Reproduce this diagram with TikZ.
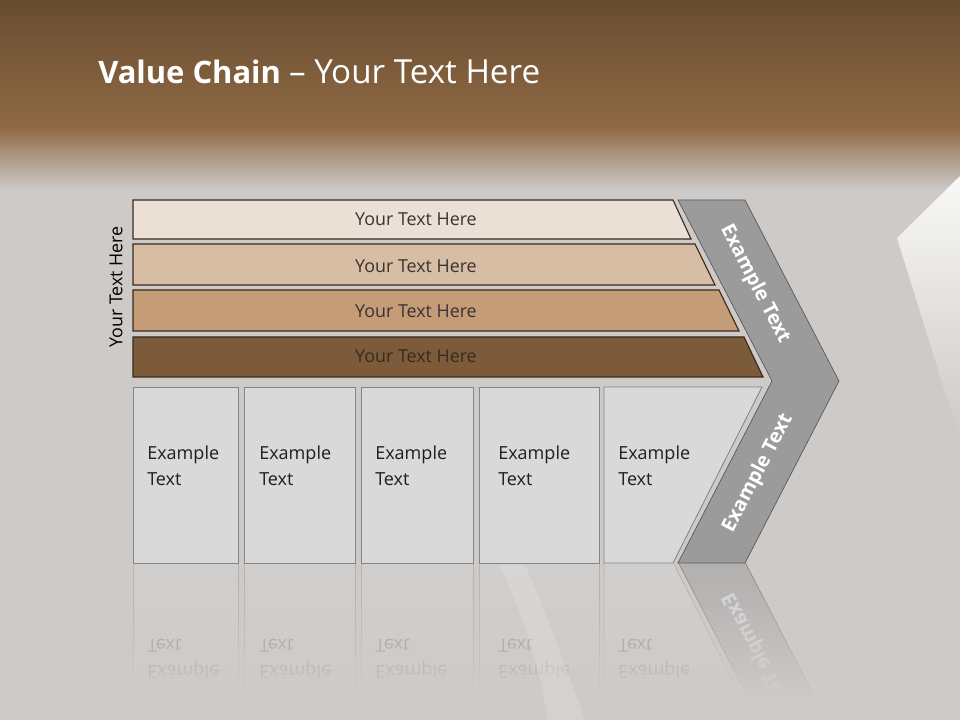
\documentclass[tikz,border=0pt]{standalone}
\usepackage{fontspec}
\setmainfont{Carlito}
\newfontfamily\osans{Open Sans}
\usepackage{xcolor}
\usetikzlibrary{positioning,fadings}

\definecolor{bgtop}{HTML}{684C30}
\definecolor{bgbrown}{HTML}{8F6A44}
\definecolor{bggray}{HTML}{CDCAC8}
\definecolor{barA}{HTML}{EBE0D5}
\definecolor{barB}{HTML}{D6BDA3}
\definecolor{barC}{HTML}{C49C78}
\definecolor{barD}{HTML}{7B5B3A}
\definecolor{barline}{HTML}{3A2A1E}
\definecolor{bartxt}{HTML}{3A3330}
\definecolor{cellfill}{HTML}{D9D9D9}
\definecolor{cellline}{HTML}{858585}
\definecolor{celltxt}{HTML}{1E1E1E}
\definecolor{chevfill}{HTML}{9B9B9B}
\definecolor{chevline}{HTML}{5A5A5A}

\tikzfading[name=reflcover, top color=transparent!100, bottom color=transparent!0]
\tikzfading[name=streakfade, top color=transparent!0, bottom color=transparent!100]

\begin{document}
\begin{tikzpicture}[x=0.025cm, y=-0.025cm,
  every node/.style={inner sep=0pt},
  bar/.style={draw=barline, line width=0.8pt},
  bartext/.style={font=\osans\fontsize{12.7}{15}\selectfont, text=bartxt},
  cell/.style={draw=cellline, fill=cellfill, line width=0.6pt},
  celltext/.style={font=\osans\fontsize{12.8}{18.5}\selectfont, text=celltxt, align=left, anchor=west},
  chev/.style={fill=chevfill, draw=chevline, line width=0.5pt},
  armtext/.style={font=\osans\bfseries\fontsize{14}{16}\selectfont, text=white}]
  \useasboundingbox (0,0) rectangle (960,720);

  % background
  \fill[top color=bgtop, bottom color=bgbrown] (0,0) rectangle (960,127);
  \fill[top color=bgbrown, bottom color=bggray] (0,127) rectangle (960,190);
  \fill[bggray] (0,190) rectangle (960,720);
  \fill[white!88!bggray, path fading=streakfade] (897,238) -- (960,176) -- (960,440) -- cycle;

  \node[anchor=base west, font=\osans\fontsize{22}{26}\selectfont, text=white] (title) at (98,84)
    {\textbf{Value Chain} {\fontsize{23.6}{26}\selectfont– Your Text Here}};

  % reflection below the cells
  \begin{scope}[shift={(0,1125)}, yscale=-1, every node/.append style={transform shape}]
    \begin{scope}[opacity=0.35]
      \draw[cell] (133,387) rectangle (238,563);
      \draw[cell] (244,387) rectangle (355,563);
      \draw[cell] (361,387) rectangle (473,563);
      \draw[cell] (479,387) rectangle (599,563);
      \draw[cell] (604,387) -- (762,387) -- (673,563) -- (604,563) -- cycle;
      \node[celltext] (r1) at (147,466) {Example\\Text};
      \node[celltext] (r2) at (259,466) {Example\\Text};
      \node[celltext] (r3) at (375,466) {Example\\Text};
      \node[celltext] (r4) at (498,466) {Example\\Text};
      \node[celltext] (r5) at (618,466) {Example\\Text};
    \end{scope}
    \begin{scope}[opacity=0.5]
      \fill[chev] (678,563) -- (745,563) -- (839,381) -- (772,381) -- cycle;
      \node[armtext, rotate=62.6] (rarm) at (758,473) {Example Text};
    \end{scope}
  \end{scope}
  \fill[bggray, path fading=reflcover] (120,575) rectangle (870,700);
  \fill[bggray] (120,700) rectangle (870,720);
  \fill[white, opacity=0.15] (500,565) .. controls (525,620) and (540,670) .. (548,720)
    -- (585,720) .. controls (565,665) and (545,610) .. (525,565) -- cycle;

  % layered bars
  \draw[bar, fill=barA] (133,200) -- (673,200) -- (691,239) -- (133,239) -- cycle;
  \draw[bar, fill=barB] (133,244) -- (695,244) -- (715,285) -- (133,285) -- cycle;
  \draw[bar, fill=barC] (133,290) -- (719,290) -- (739,331) -- (133,331) -- cycle;
  \draw[bar, fill=barD] (133,337) -- (744,337) -- (763,377) -- (133,377) -- cycle;
  \node[bartext] (bar1) at (416,219) {Your Text Here};
  \node[bartext] (bar2) at (416,266) {Your Text Here};
  \node[bartext] (bar3) at (416,311) {Your Text Here};
  \node[bartext, text=barline] (bar4) at (416,356) {Your Text Here};
  \node[bartext, text=black, rotate=90] (side) at (116,287) {Your Text Here};

  % cells
  \draw[cell] (133,387) rectangle (238,563);
  \draw[cell] (244,387) rectangle (355,563);
  \draw[cell] (361,387) rectangle (473,563);
  \draw[cell] (479,387) rectangle (599,563);
  \draw[cell] (604,387) -- (762,387) -- (673,563) -- (604,563) -- cycle;
  \node[celltext] (c1) at (147,466) {Example\\Text};
  \node[celltext] (c2) at (259,466) {Example\\Text};
  \node[celltext] (c3) at (375,466) {Example\\Text};
  \node[celltext] (c4) at (498,466) {Example\\Text};
  \node[celltext] (c5) at (618,466) {Example\\Text};

  % chevron
  \draw[chev] (678,200) -- (745,200) -- (839,381) -- (745,563) -- (678,563) -- (772,381) -- cycle;
  \node[armtext, rotate=-62.6] (armtop) at (755,284) {Example Text};
  \node[armtext, rotate=62.6] (armbot) at (758,473) {Example Text};
\end{tikzpicture}
\end{document}
